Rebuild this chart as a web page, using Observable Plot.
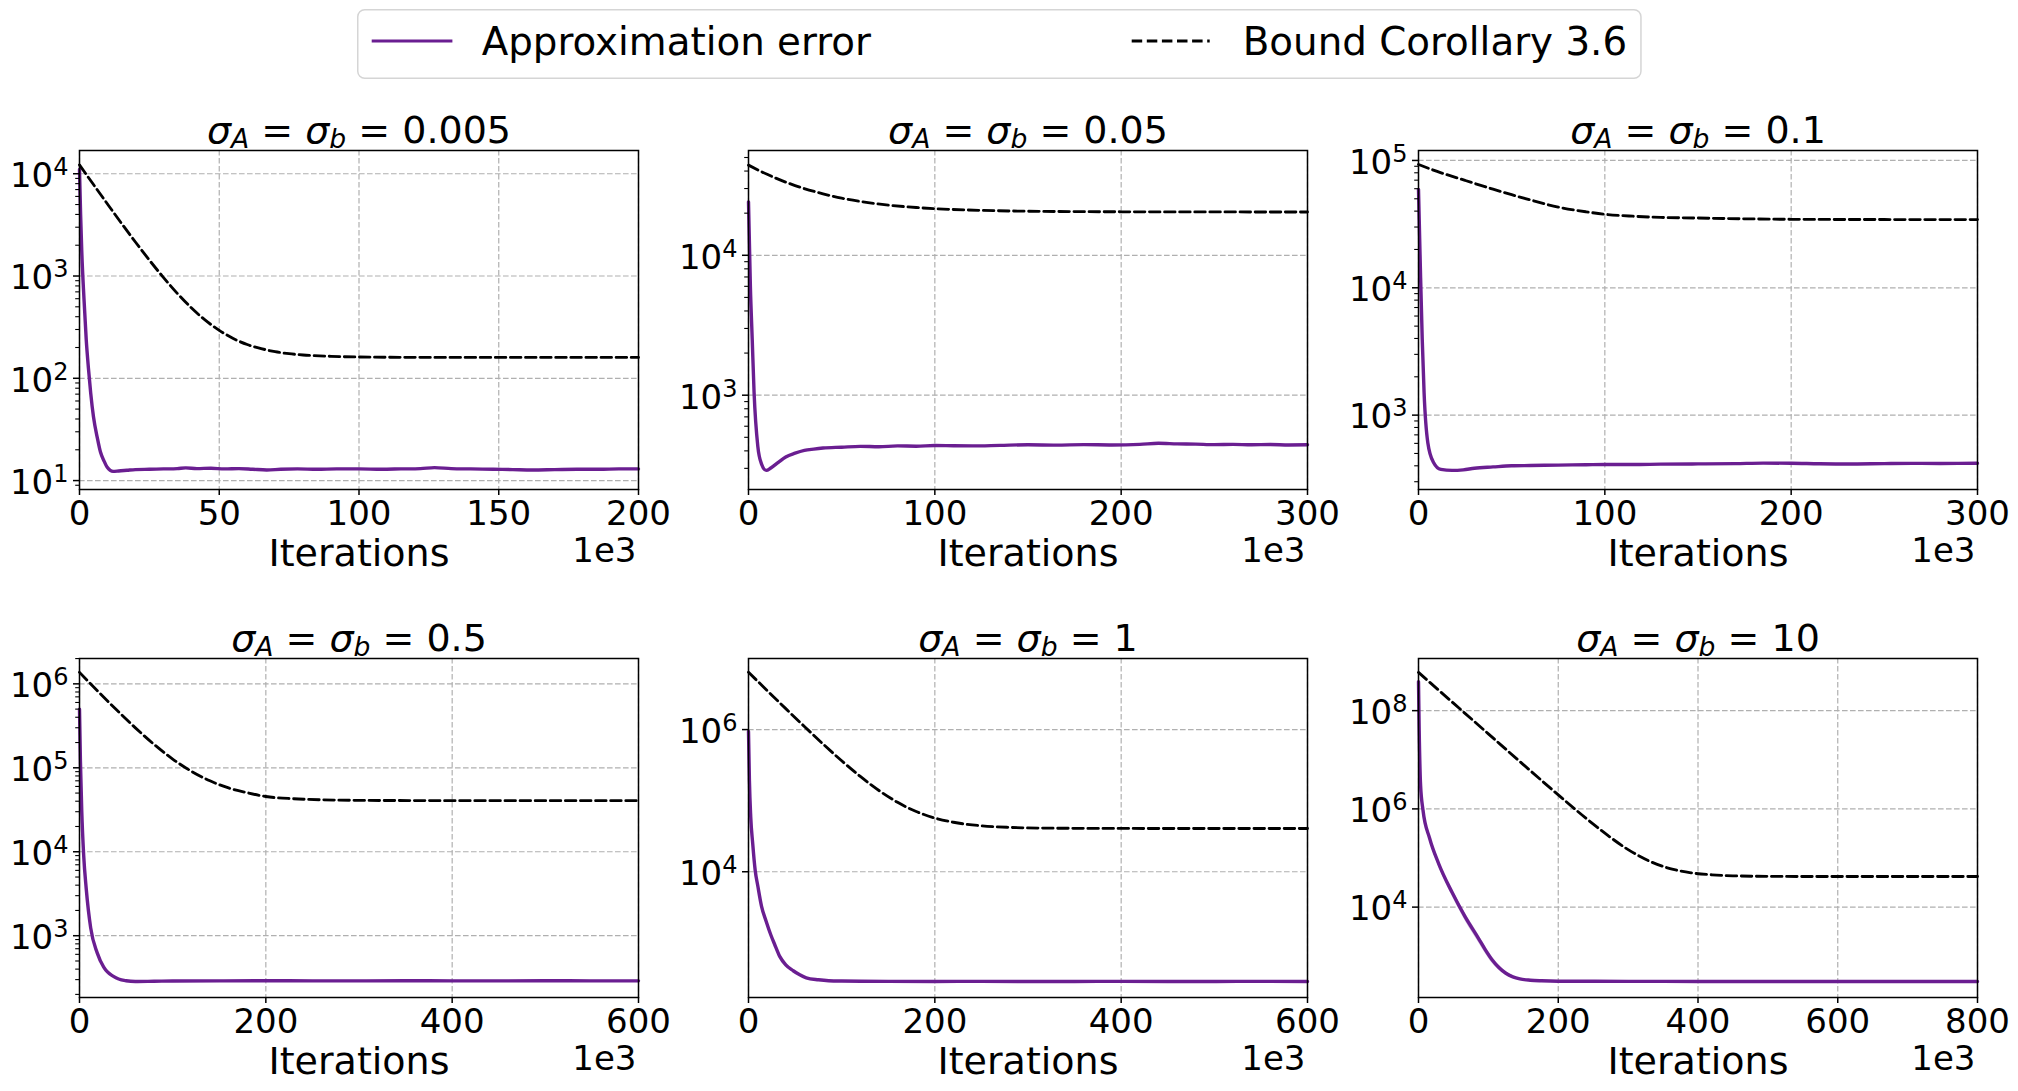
<!DOCTYPE html>
<html>
<head>
<meta charset="utf-8">
<script src="https://cdn.jsdelivr.net/npm/d3@7"></script>
<script src="https://cdn.jsdelivr.net/npm/@observablehq/plot@0.6"></script>
<style>
  body { margin: 0; background: #ffffff; }
  #root { position: relative; width: 2018px; height: 1091px; overflow: hidden; font-family: "DejaVu Sans"; background: #fff; }
  .panel { position: absolute; }
  .panel svg { overflow: visible; }
  #legend { position: absolute; }
</style>
</head>
<body>
<div id="root"></div>
<script>
// ---------------- DATA (x in units of 1e3 iterations) ----------------
const titles = ["σ_A = σ_b = 0.005", "σ_A = σ_b = 0.05", "σ_A = σ_b = 0.1",
                "σ_A = σ_b = 0.5", "σ_A = σ_b = 1", "σ_A = σ_b = 10"];
const seriesNames = ["Approximation error", "Bound Corollary 3.6"];
const xLabel = "Iterations";
const xMultiplier = "1e3";

// panel 1: sigma = 0.005
const errX1 = [0,0.4,0.8,1.6,2.4,3.2,4,5,6.4,7.5,8.8,10,11,12,14,17,20,25,30,35,38,42,47,52,57,62,67,72,78,85,92,100,108,115,122,127,133,140,148,155,162,170,178,186,193,200];
const err1  = [11000,4000,1780,600,240,125,72,42,26,19,15.5,13.4,12.6,12.3,12.4,12.6,12.8,12.9,13.0,13.1,13.3,13.1,13.2,13.0,13.1,12.9,12.7,12.9,13.0,12.9,13.0,13.0,12.9,13.0,13.1,13.4,13.1,13.0,12.9,12.8,12.7,12.8,12.9,12.9,13.0,13.0];
const boundX1 = [0,5,10,15,20,25,30,35,40,45,50,55,60,65,70,75,80,90,100,120,150,200];
const bound1  = [12200,7840,5060,3280,2150,1430,970,676,489,370,294,245,214,195,182,174,169,164,161.5,160.2,160,160];

// panel 2: sigma = 0.05
const errX2 = [0,1,2,3,5,7,9.5,12,16,20,25,30,35,40,50,60,70,80,90,100,110,120,135,150,165,180,195,210,220,230,240,250,260,270,280,290,300];
const err2  = [24100,6070,2500,1040,431,322,290,302,331,362,385,403,412,419,425,431,428,434,432,437,435,434,438,442,440,443,441,445,453,449,447,443,445,442,444,441,442];
const boundX2 = [0,10,25,40,50,60,75,90,100,125,150,175,200,250,300];
const bound2  = [44100,37900,31500,27500,25610,24250,22840,21950,21545,20938,20652,20518,20455,20410,20400];

// panel 3: sigma = 0.1
const errX3 = [0,1,2,3,5,8,12,18,24,30,40,50,60,75,90,100,115,130,150,170,185,200,215,230,250,265,280,300];
const err3  = [59300,14400,3950,1500,608,427,375,368,372,383,392,400,402,405,408,410,409,412,414,416,420,419,415,413,416,418,417,419];
const boundX3 = [0,10,25,40,50,60,75,90,100,115,130,150,175,200,250,300];
const bound3  = [93000,82000,69700,59500,53800,49000,43000,39500,37800,36500,35700,35300,34800,34500,34350,34300];

// panel 4: sigma = 0.5
const errX4 = [0,1,2.4,4.5,7.2,12,19,26,30,36,42,50,60,80,100,150,200,250,300,350,400,450,500,550,600];
const err4  = [500000,120000,31000,9000,3650,1240,625,423,370,330,305,291,285,287,289,290,291,290,290,291,290,290,291,290,290];
const boundX4 = [0,20,40,60,80,100,120,140,160,180,200,230,260,300,400,600];
const bound4  = [1370000,810000,487000,299000,190000,127000,91000,70000,57500,50500,45500,42800,41600,40970,40630,40600];

// panel 5: sigma = 1
const errX5 = [0,1,2.4,4.5,7.2,10,14,19,24,28,33.5,40,48,55,62,75,86,100,150,200,250,300,350,400,450,500,550,600];
const err5  = [940000,190000,59000,25000,10400,6300,3260,2000,1290,955,645,490,405,355,322,302,293,290,287,286,287,286,286,287,286,286,287,286];
const boundX5 = [0,20,40,60,80,100,120,140,160,180,200,220,250,280,320,400,600];
const bound5  = [6400000,3545000,1971000,1105000,627000,364000,219000,139000,94700,70400,57000,49700,44300,42100,41060,40670,40600];

// panel 6: sigma = 10
const errX6  = [0,1,3,6.4,16,28.8,48,67,86,95,105.5,115,125,135,145,160,176,200,300,400,500,600,700,800];
const err6   = [390000000,40000000,3000000,950000,250000,77000,20000,6250,2290,1400,840,590,450,380,345,325,316,310,308,307,307,307,307,307];
const err6Lo = [390000000,40000000,3000000,900000,228000,68000,17000,5200,1900,1180,720,520,410,360,334,318,312,307,305,304,304,304,304,304];
const err6Hi = [390000000,40000000,3000000,1000000,272000,86000,23500,7500,2750,1650,980,670,495,400,357,332,320,313,311,310,310,310,310,310];
const boundX6 = [0,50,100,150,200,240,270,300,330,360,390,420,450,500,600,800];
const bound6  = [600000000,142000000,33700000,7980000,1930000,640000,295000,148000,86900,61000,50000,45400,43400,42300,42000,42000];

// axis tick values
const xTicks1 = [0,50,100,150,200];
const xTicks2 = [0,100,200,300];
const xTicks4 = [0,200,400,600];
const xTicks6 = [0,200,400,600,800];
const yTicks1 = [1e1,1e2,1e3,1e4];
const yTicks2 = [1e3,1e4];
const yTicks3 = [1e3,1e4,1e5];
const yTicks4 = [1e3,1e4,1e5,1e6];
const yTicks5 = [1e4,1e6];
const yTicks6 = [1e4,1e6,1e8];
const yDomains = [[8.18,16870],[211.8,56100],[260.6,119700],[183.7,2004000],[170.2,1e7],[144.5,1.153e9]];
const xMax = [200,300,300,600,600,800];

// ---------------- LAYOUT / STYLE ----------------
const PURPLE = "#6a1e91";
const FW = 559, FH = 339, ML = 80, MR = 30, MT = 50, MB = 95;
const colLeft = [78.5, 748, 1418.4];
const rowTop = [150.3, 658];
const NS = "http://www.w3.org/2000/svg";

const panels = [
  {errX: errX1, err: err1, boundX: boundX1, bound: bound1, xTicks: xTicks1, yTicks: yTicks1, minor: true},
  {errX: errX2, err: err2, boundX: boundX2, bound: bound2, xTicks: xTicks2, yTicks: yTicks2, minor: true},
  {errX: errX3, err: err3, boundX: boundX3, bound: bound3, xTicks: xTicks2, yTicks: yTicks3, minor: true},
  {errX: errX4, err: err4, boundX: boundX4, bound: bound4, xTicks: xTicks4, yTicks: yTicks4, minor: true},
  {errX: errX5, err: err5, boundX: boundX5, bound: bound5, xTicks: xTicks4, yTicks: yTicks5, minor: false},
  {errX: errX6, err: err6, boundX: boundX6, bound: bound6, xTicks: xTicks6, yTicks: yTicks6, minor: false, lo: err6Lo, hi: err6Hi}
];

function minorTicks(lo, hi) {
  const out = [];
  for (let e = Math.floor(Math.log10(lo)); e <= Math.ceil(Math.log10(hi)); e++)
    for (let k = 2; k <= 9; k++) { const v = k * Math.pow(10, e); if (v >= lo && v <= hi) out.push(v); }
  return out;
}

function tspan(parent, txt, attrs) {
  const t = document.createElementNS(NS, "tspan");
  t.textContent = txt;
  for (const k in attrs) t.setAttribute(k, attrs[k]);
  parent.appendChild(t);
  return t;
}

function richTitle(t, s) {
  t.textContent = "";
  const re = /σ_([A-Za-z])/g;
  let last = 0, m, down = false;
  while ((m = re.exec(s))) {
    if (m.index > last) { tspan(t, s.slice(last, m.index), down ? {dy: -5} : {}); down = false; }
    tspan(t, "σ", Object.assign({"font-style": "italic"}, down ? {dy: -5} : {}));
    down = false;
    tspan(t, m[1], {"font-style": "italic", "font-size": 26.6, dy: 5});
    down = true;
    last = re.lastIndex;
  }
  if (last < s.length) tspan(t, s.slice(last), down ? {dy: -5} : {});
}

const root = document.getElementById("root");

panels.forEach((p, i) => {
  const [ylo, yhi] = yDomains[i];
  const errData = p.errX.map((x, j) => ({x, y: p.err[j]}));
  const boundData = p.boundX.map((x, j) => ({x, y: p.bound[j]}));
  const gridStyle = {stroke: "#b0b0b0", strokeOpacity: 1, strokeWidth: 1.2, strokeDasharray: "5.6,2.4"};
  const marks = [
    Plot.gridX({ticks: p.xTicks, ...gridStyle}),
    Plot.gridY({ticks: p.yTicks, ...gridStyle})
  ];
  if (p.lo) {
    const bandData = p.errX.map((x, j) => ({x, lo: p.lo[j], hi: p.hi[j]}));
    marks.push(Plot.areaY(bandData, {x: "x", y1: "lo", y2: "hi", fill: PURPLE, fillOpacity: 0.28, curve: "monotone-x"}));
  }
  marks.push(Plot.line(errData, {x: "x", y: "y", stroke: PURPLE, strokeWidth: 3.4, curve: "monotone-x"}));
  marks.push(Plot.line(boundData, {x: "x", y: "y", stroke: "black", strokeWidth: 2.85, strokeDasharray: "10.5,4.6", curve: "monotone-x"}));
  marks.push(Plot.frame({stroke: "black", strokeWidth: 1.5}));
  if (p.minor) marks.push(Plot.axisY({ticks: minorTicks(ylo, yhi), tickSize: 3.8, strokeWidth: 1.1, tickFormat: () => "", label: null}));
  marks.push(Plot.axisY({ticks: p.yTicks, tickSize: 6, tickPadding: 5, strokeWidth: 1.5, fontSize: 34,
    tickFormat: d => "10^" + Math.round(Math.log10(d)), label: null}));
  marks.push(Plot.axisX({ticks: p.xTicks, tickSize: 6, tickPadding: 5.6, strokeWidth: 1.5, fontSize: 34,
    tickFormat: d => String(d), label: null}));
  marks.push(Plot.text([titles[i]], {text: d => d, frameAnchor: "top", lineAnchor: "bottom", dy: -8, fontSize: 38}));
  marks.push(Plot.text([xLabel], {text: d => d, frameAnchor: "bottom", lineAnchor: "bottom", dy: 76, fontSize: 38}));
  marks.push(Plot.text([xMultiplier], {text: d => d, frameAnchor: "bottom-right", textAnchor: "end", lineAnchor: "bottom", dy: 72, dx: -2, fontSize: 34}));

  const svg = Plot.plot({
    width: FW + ML + MR, height: FH + MT + MB,
    marginLeft: ML, marginRight: MR, marginTop: MT, marginBottom: MB,
    style: {fontFamily: "DejaVu Sans", background: "transparent", overflow: "visible", color: "black"},
    x: {domain: [0, xMax[i]]},
    y: {type: "log", domain: [ylo, yhi]},
    marks
  });

  svg.querySelectorAll('g[aria-label="y-axis tick label"] text').forEach(t => {
    const s = t.textContent;
    if (!s.includes("^")) return;
    const [b, e] = s.split("^");
    t.textContent = "";
    tspan(t, b, {});
    tspan(t, e, {"font-size": 24, dy: -12});
    t.setAttribute("y", "13.3");
  });
  svg.querySelectorAll("text").forEach(t => {
    if (t.textContent === titles[i]) richTitle(t, titles[i]);
  });

  const div = document.createElement("div");
  div.className = "panel";
  div.style.left = (colLeft[i % 3] - ML) + "px";
  div.style.top = (rowTop[Math.floor(i / 3)] - MT) + "px";
  div.appendChild(svg);
  root.appendChild(div);
});

// ---------------- LEGEND ----------------
const lg = document.createElement("div");
lg.id = "legend";
lg.style.left = "357.3px"; lg.style.top = "9.3px";
const LW = 1284.7, LH = 70;
lg.innerHTML = `<svg width="${LW}" height="${LH}" style="overflow:visible;display:block">
  <rect x="0.75" y="0.75" width="${LW - 1.5}" height="${LH - 1.5}" rx="7" ry="7" fill="white" fill-opacity="0.8" stroke="#d5d5d5" stroke-width="1.5"/>
  <line x1="14.7" x2="95.4" y1="32" y2="32" stroke="${PURPLE}" stroke-width="3"/>
  <text x="124.7" y="46.1" font-family="DejaVu Sans" font-size="38.8" fill="black">${seriesNames[0]}</text>
  <line x1="774.7" x2="852.7" y1="32" y2="32" stroke="black" stroke-width="2.85" stroke-dasharray="10.5,4.6"/>
  <text x="885.7" y="46.1" font-family="DejaVu Sans" font-size="38.8" fill="black">${seriesNames[1]}</text>
</svg>`;
root.appendChild(lg);
</script>
</body>
</html>
